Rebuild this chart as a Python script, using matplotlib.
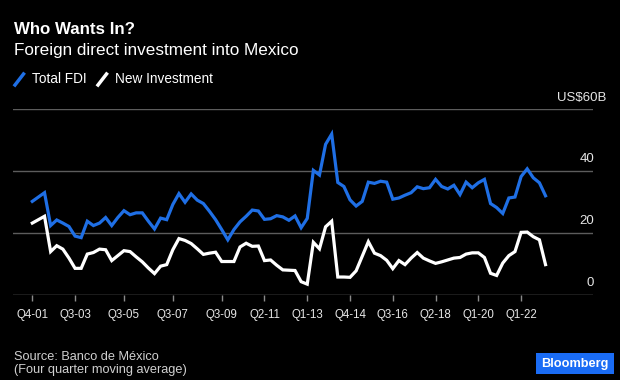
import matplotlib
matplotlib.use("Agg")
import matplotlib.pyplot as plt
from matplotlib.patches import FancyBboxPatch
from matplotlib.lines import Line2D

plt.rcParams['font.family'] = ['Liberation Sans', 'DejaVu Sans']

# quarterly values, US$ billions (four quarter moving average), starting Q4-01
total_fdi = [30.2, 31.6, 33.0, 22.4, 24.2, 23.2, 22.1, 19.0, 18.5, 23.8,
             22.4, 23.2, 25.0, 22.4, 25.0, 27.2, 25.9, 26.5, 26.5, 23.8,
             21.3, 24.8, 24.3, 29.2, 32.7, 29.9, 32.6, 30.6, 29.5, 27.0,
             24.3, 21.1, 17.8, 21.1, 23.6, 25.4, 27.4, 27.1, 24.4, 24.6,
             25.6, 25.2, 24.1, 25.5, 21.7, 24.7, 40.2, 38.7, 48.6, 51.9,
             36.3, 35.0, 30.7, 28.7, 30.2, 36.4, 36.0, 36.7, 36.4, 30.9,
             31.3, 32.2, 33.0, 34.9, 34.3, 34.6, 37.3, 35.0, 34.2, 35.4,
             32.4, 36.4, 34.6, 36.2, 37.3, 29.5, 28.2, 26.3, 31.3, 31.6,
             38.2, 40.7, 37.8, 36.2, 32.0]
new_investment = [23.2, 24.3, 25.4, 14.0, 15.9, 14.8, 11.9, 8.6, 8.6, 13.2,
                  13.7, 14.8, 14.6, 11.1, 12.7, 14.3, 14.0, 12.3, 10.7, 8.7,
                  6.9, 9.3, 9.8, 14.6, 18.2, 17.6, 16.6, 14.9, 13.1, 13.5,
                  13.8, 10.8, 10.8, 10.8, 15.5, 16.7, 15.7, 15.8, 11.1, 11.3,
                  9.6, 8.1, 8.0, 7.9, 4.3, 3.5, 17.0, 14.9, 22.0, 23.8,
                  5.8, 5.8, 5.7, 7.8, 12.5, 17.2, 13.5, 12.7, 11.2, 8.5,
                  11.1, 9.8, 11.9, 13.7, 11.9, 11.0, 10.2, 10.7, 11.3, 11.9,
                  12.1, 13.2, 13.6, 13.6, 12.1, 7.0, 6.3, 10.3, 12.7, 14.0,
                  20.2, 20.3, 18.8, 17.8, 9.8]
tick_idx = [0, 7, 15, 23, 31, 38, 45, 52, 59, 66, 73, 80]
tick_labels = ['Q4-01', 'Q3-03', 'Q3-05', 'Q3-07', 'Q3-09', 'Q2-11',
               'Q1-13', 'Q4-14', 'Q3-16', 'Q2-18', 'Q1-20', 'Q1-22']
y_ticks = [0, 20, 40, 60]
y_labels = ['0', '20', '40', 'US$60B']

blue = '#1f6fe5'
grid_col = '#5c5c5c'
text_col = '#e6e6e6'

fig = plt.figure(figsize=(6.2, 3.8), dpi=100, facecolor='black')
ax = fig.add_axes([13.3 / 620, 85 / 380, 579.7 / 620, 186 / 380])
ax.set_facecolor('black')

x = list(range(len(total_fdi)))
ax.plot(x, total_fdi, color=blue, lw=2.3, solid_joinstyle='miter', zorder=3)
ax.plot(x, new_investment, color='white', lw=2.3, solid_joinstyle='miter', zorder=3)

ax.set_xlim(-3.11, 91.77)
ax.set_ylim(0, 60)

for v in y_ticks[1:]:
    ax.axhline(v, color=grid_col, lw=1, zorder=1)
ax.axhline(0, color='#8a8a8a', lw=1, zorder=2)

for s in ax.spines.values():
    s.set_visible(False)

ax.set_yticks([])
ax.set_xticks(tick_idx)
ax.set_xticklabels(tick_labels, fontsize=8.3, color=text_col)
ax.tick_params(axis='x', length=4, width=1, color='#8a8a8a', pad=6)

# y labels sit above the gridlines at the right end
for v, lab in zip(y_ticks, y_labels):
    xr = 594 / 620 if v != 60 else 606 / 620
    fig.text(xr, (380 - (295 - v * 3.1) + 11.5) / 380, lab, ha='right', va='center',
             fontsize=9.5, color=text_col)

fig.text(14 / 620, 1 - 30 / 380, 'Who Wants In?', fontsize=12.2, fontweight='bold',
         color='white', va='center')
fig.text(14 / 620, 1 - 50 / 380, 'Foreign direct investment into Mexico',
         fontsize=12.3, color='white', va='center')

# legend with slash markers
fig.add_artist(Line2D([15 / 620, 23.5 / 620], [1 - 85 / 380, 1 - 74 / 380],
                      color=blue, lw=2.5))
fig.text(32 / 620, 1 - 79 / 380, 'Total FDI', fontsize=9.8, color='white', va='center')
fig.add_artist(Line2D([98 / 620, 106.5 / 620], [1 - 85 / 380, 1 - 74 / 380],
                      color='white', lw=2.5))
fig.text(115 / 620, 1 - 79 / 380, 'New Investment', fontsize=9.8, color='white',
         va='center')

fig.text(14 / 620, 1 - 356.7 / 380, 'Source: Banco de México', fontsize=9.2,
         color='#d0d0d0', va='center')
fig.text(14 / 620, 1 - 370.5 / 380, '(Four quarter moving average)', fontsize=9.2,
         color='#d0d0d0', va='center')

fig.add_artist(FancyBboxPatch((536 / 620, 1 - 374 / 380), 78 / 620, 20.7 / 380,
                              boxstyle='square,pad=0', facecolor='#1a6cf5',
                              edgecolor='none', transform=fig.transFigure))
fig.text(575 / 620, 1 - 363.5 / 380, 'Bloomberg', fontsize=9.2, fontweight='bold',
         color='white', ha='center', va='center')

fig.savefig('out.png', dpi=100, facecolor='black')
